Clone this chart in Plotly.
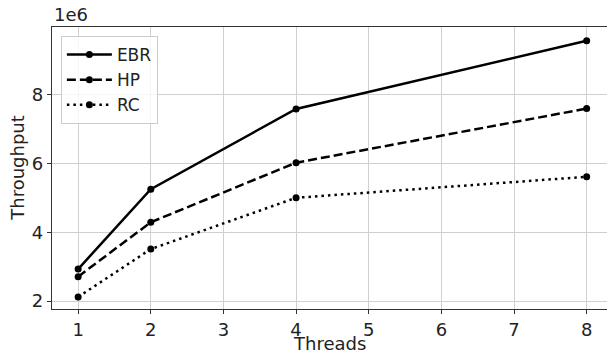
import plotly.graph_objects as go

threads = [1, 2, 4, 8]
ebr = [2.93, 5.25, 7.58, 9.56]
hp = [2.71, 4.29, 6.02, 7.59]
rc = [2.12, 3.51, 5.00, 5.61]
series_names = ["EBR", "HP", "RC"]
x_ticks = [1, 2, 3, 4, 5, 6, 7, 8]
y_ticks = [2, 4, 6, 8]

dashes = ["solid", "9px,4px", "2.5px,4px"]
font = "DejaVu Sans"
fs = 18
fc = "#222222"

fig = go.Figure()
for name, vals, d in zip(series_names, [ebr, hp, rc], dashes):
    fig.add_trace(go.Scatter(
        x=threads, y=vals, name=name, mode="lines+markers",
        line=dict(color="black", width=2.5, dash=d),
        marker=dict(color="black", size=7, symbol="circle"),
    ))

axis_common = dict(
    showline=True, linecolor="#333333", linewidth=1.2, mirror=True,
    showgrid=True, gridcolor="#d0d0d0", gridwidth=1,
    ticks="outside", ticklen=4, tickcolor="#333333",
    tickfont=dict(family=font, size=fs, color=fc),
    zeroline=False, automargin=False,
)

fig.update_xaxes(range=[0.64, 8.28], tickvals=x_ticks, **axis_common)
fig.update_yaxes(range=[1.77, 9.96], tickvals=y_ticks, **axis_common)

fig.add_annotation(text="1e6", xref="paper", yref="paper", x=0, y=1.0,
                   xanchor="left", yanchor="bottom", showarrow=False,
                   font=dict(family=font, size=fs, color=fc))
fig.add_annotation(text="Threads", xref="paper", yref="paper", x=0.5, y=-0.079,
                   xanchor="center", yanchor="top", showarrow=False,
                   font=dict(family=font, size=fs, color=fc))
fig.add_annotation(text="Throughput", xref="paper", yref="paper", x=-0.041, y=0.5,
                   xanchor="right", yanchor="middle", showarrow=False, textangle=-90,
                   font=dict(family=font, size=fs, color=fc))

fig.update_layout(
    width=607, height=352,
    margin=dict(l=52, r=0, t=27, b=43),
    plot_bgcolor="white", paper_bgcolor="white",
    font=dict(family=font, size=fs, color=fc),
    showlegend=True,
    legend=dict(x=0.016, y=0.968, xanchor="left", yanchor="top",
                bgcolor="rgba(255,255,255,0.8)", bordercolor="#cccccc", borderwidth=1,
                itemwidth=45, tracegroupgap=0,
                font=dict(family=font, size=17, color=fc)),
)

fig.write_html("out.html", config={"displayModeBar": False},
               post_script="document.body.style.margin='0';document.body.style.padding='0';")
